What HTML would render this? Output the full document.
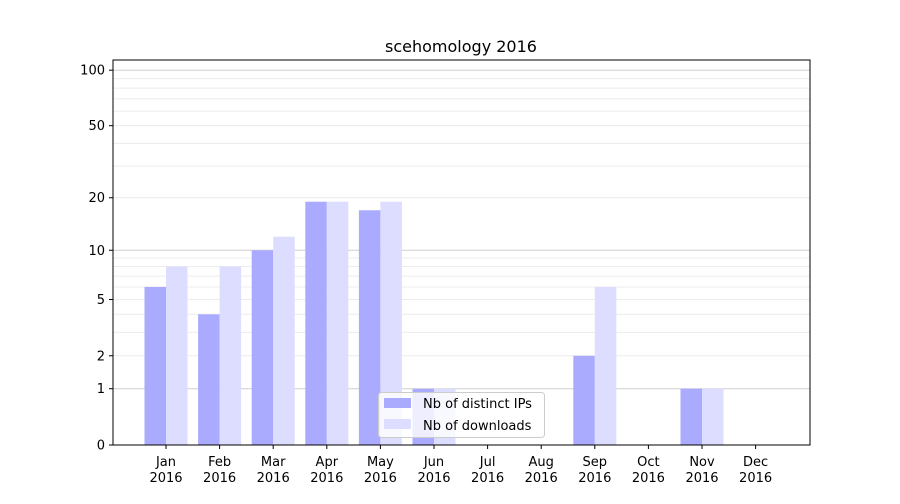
<!DOCTYPE html>
<html><head><meta charset="utf-8"><style>
body{margin:0;background:#fff;font-family:"DejaVu Sans","Liberation Sans",sans-serif;}
svg text{font-family:"DejaVu Sans","Liberation Sans",sans-serif;}
</style></head><body>
<svg id="c" width="900" height="500" xmlns="http://www.w3.org/2000/svg"></svg>
<script>
const months=["Jan","Feb","Mar","Apr","May","Jun","Jul","Aug","Sep","Oct","Nov","Dec"];
const ips=[6,4,10,19,17,1,0,0,2,0,1,0];
const downloads=[8,8,12,19,19,1,0,0,6,0,1,0];
const yTicks=[0,1,2,5,10,20,50,100];
const NS="http://www.w3.org/2000/svg";
const svg=document.getElementById('c');
const L=113,R=810,T=60,B=445;
function y(v){return B-187*Math.log10(1+v);}
function x(i){return 166+i*53.6;}
function mk(t,a,p){const e=document.createElementNS(NS,t);for(const k in a)e.setAttribute(k,a[k]);(p||svg).appendChild(e);return e;}
// grid
const grid=mk('g',{});


for(const d of [1,10]){for(let m=1;m<=9;m++){const v=d*m;const major=(m===1);
 const l=mk('line',{x1:L,x2:R,y1:y(v),y2:y(v),stroke:major?'#cfcfcf':'#ececec','stroke-width':1},grid);
 
 }}
const l100=mk('line',{x1:L,x2:R,y1:y(100),y2:y(100),stroke:'#cfcfcf'},grid);


// bars
months.forEach((m,i)=>{
 const b1=mk('rect',{x:x(i)-21.5,y:y(ips[i]),width:21.5,height:B-y(ips[i]),fill:'#aaaaff'});
 
 
 const b2=mk('rect',{x:x(i),y:y(downloads[i]),width:21.5,height:B-y(downloads[i]),fill:'#ddddff'});
 
 
 const tk=mk('line',{x1:x(i),x2:x(i),y1:B,y2:B+4,stroke:'#000'});
 
 
 const t=mk('text',{x:x(i),y:B+21,'text-anchor':'middle','font-size':13});
 
 
 t.innerHTML='<tspan x="'+x(i)+'">'+m+'</tspan><tspan x="'+x(i)+'" dy="16">2016</tspan>';
});
yTicks.forEach(v=>{
 const tk=mk('line',{x1:L-4,x2:L,y1:y(v),y2:y(v),stroke:'#000'});
 
 
 const t=mk('text',{x:L-8,y:y(v)+4.5,'text-anchor':'end','font-size':13});
 
 
 t.textContent=v;
});
const fr=mk('rect',{x:L,y:T,width:R-L,height:B-T,fill:'none',stroke:'#000','stroke-width':1});


const ti=mk('text',{x:461,y:52,'text-anchor':'middle','font-size':16});


ti.textContent='scehomology 2016';
// legend
const lg=mk('g',{});


mk('rect',{x:378.5,y:392.5,width:166,height:45,rx:3,fill:'rgba(255,255,255,0.8)',stroke:'#ccc'},lg);
mk('rect',{x:384,y:398,width:27,height:10,fill:'#aaaaff'},lg);
mk('rect',{x:384,y:419,width:27,height:10,fill:'#ddddff'},lg);
const t1=mk('text',{x:423,y:408,'font-size':13},lg);


t1.textContent='Nb of distinct IPs';
const t2=mk('text',{x:423,y:430,'font-size':13},lg);


t2.textContent='Nb of downloads';
</script>
</body></html>
